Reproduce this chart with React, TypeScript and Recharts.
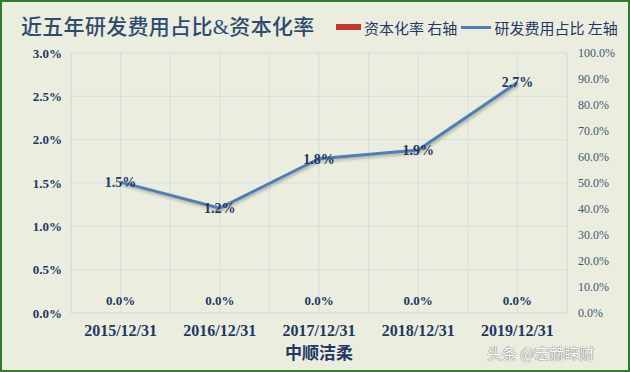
import {
  Bar,
  CartesianGrid,
  ComposedChart,
  LabelList,
  Line,
  XAxis,
  YAxis,
} from 'recharts'

const CATEGORIES = ['2015/12/31', '2016/12/31', '2017/12/31', '2018/12/31', '2019/12/31']
// 研发费用占比 (%), left axis
const RD_RATIO = [1.51, 1.21, 1.78, 1.88, 2.66]
// 资本化率 (%), right axis
const CAP_RATE = [0, 0, 0, 0, 0]
const LEFT_TICKS = [0, 0.5, 1, 1.5, 2, 2.5, 3]
const RIGHT_TICKS = [0, 10, 20, 30, 40, 50, 60, 70, 80, 90, 100]

const NAVY = '#1F3864'
const SERIF = '"Liberation Serif", "Noto Sans CJK SC", serif'
const CJK = '"Noto Sans CJK SC", sans-serif'

const data = CATEGORIES.map((name, i) => ({ name, rd: RD_RATIO[i], cap: CAP_RATE[i] }))

const pct = (v: number) => `${Number(v).toFixed(1)}%`

export default function App() {
  return (
    <div style={{ position: 'relative', width: 630, height: 372, background: '#EBEEDF', overflow: 'hidden' }}>
      <style>{'body{margin:0}'}</style>
      <ComposedChart
        width={630}
        height={372}
        data={data}
        margin={{ top: 53, right: 0, left: 0, bottom: 0 }}
      >
        <CartesianGrid
          yAxisId="left"
          stroke="#D6DCE3"
          strokeWidth={1}
          verticalCoordinatesGenerator={({ offset }: any) =>
            Array.from({ length: CATEGORIES.length * 2 + 1 }, (_, i) =>
              offset.left + (i * offset.width) / (CATEGORIES.length * 2))
          }
        />
        <XAxis
          dataKey="name"
          height={59}
          axisLine={{ stroke: '#D6DCE3' }}
          tickLine={false}
          tickSize={0}
          tickMargin={12}
          tick={{ fontSize: 16, fontWeight: 700, fill: NAVY, fontFamily: SERIF }}
          label={{
            value: '中顺洁柔',
            position: 'insideBottom',
            offset: 13,
            style: { fontSize: 17, fontWeight: 700, fill: NAVY, fontFamily: CJK },
          }}
        />
        <YAxis
          yAxisId="left"
          width={71}
          domain={[0, 3]}
          ticks={LEFT_TICKS}
          tickFormatter={pct}
          axisLine={{ stroke: '#D6DCE3' }}
          tickLine={false}
          tickSize={0}
          tickMargin={9}
          tick={{ fontSize: 13, fontWeight: 700, fill: NAVY, fontFamily: SERIF }}
        />
        <YAxis
          yAxisId="right"
          orientation="right"
          width={63}
          domain={[0, 100]}
          ticks={RIGHT_TICKS}
          tickFormatter={pct}
          axisLine={{ stroke: '#D6DCE3' }}
          tickLine={false}
          tickSize={0}
          tickMargin={11}
          tick={{ fontSize: 12, fill: '#3E5670', fontFamily: SERIF }}
        />
        <Bar yAxisId="right" dataKey="cap" fill="#C0392B" barSize={40} isAnimationActive={false} />
        {/* zero-height bars draw no labels, so the 0.0% labels ride on an invisible line */}
        <Line
          yAxisId="right"
          dataKey="cap"
          stroke="none"
          dot={false}
          activeDot={false}
          legendType="none"
          isAnimationActive={false}
        >
          <LabelList
            dataKey="cap"
            position="top"
            offset={8}
            formatter={pct}
            style={{ fontSize: 13, fontWeight: 700, fill: NAVY, fontFamily: SERIF }}
          />
        </Line>
        <Line
          yAxisId="left"
          dataKey="rd"
          stroke="#4F7FBA"
          strokeWidth={3}
          dot={false}
          style={{ filter: 'drop-shadow(1px 2px 1.5px rgba(60,60,40,0.35))' }}
          isAnimationActive={false}
        >
          <LabelList
            dataKey="rd"
            position="center"
            formatter={pct}
            style={{ fontSize: 14, fontWeight: 700, fill: NAVY, fontFamily: SERIF }}
          />
        </Line>
      </ComposedChart>

      <div
        style={{
          position: 'absolute', left: 21, top: 13, fontSize: 21, lineHeight: '28px',
          color: '#2E4B70', fontFamily: SERIF, fontWeight: 500, letterSpacing: 0.3,
        }}
      >
        近五年研发费用占比&amp;资本化率
      </div>

      <div
        style={{
          position: 'absolute', left: 336, top: 16, height: 22, display: 'flex',
          alignItems: 'center', fontFamily: CJK, fontSize: 15, color: NAVY, whiteSpace: 'nowrap',
        }}
      >
        <span style={{ width: 25, height: 6, background: '#C0392B', display: 'inline-block', marginRight: 3 }} />
        <span>资本化率 右轴</span>
        <span style={{ width: 30, height: 3, background: '#4F7FBA', display: 'inline-block', margin: '0 3px 0 4px' }} />
        <span>研发费用占比 左轴</span>
      </div>

      <div
        style={{
          position: 'absolute', left: 487, top: 342, fontFamily: CJK, fontSize: 15,
          color: '#FFFFFF', textShadow: '0 0 1px #666, 0 0 1px #666', whiteSpace: 'nowrap',
        }}
      >
        头条 @宏赫睐财
      </div>

      <div
        style={{
          position: 'absolute', inset: 0, border: '2px solid #2E7A2E', boxSizing: 'border-box',
          pointerEvents: 'none',
        }}
      />
    </div>
  )
}
